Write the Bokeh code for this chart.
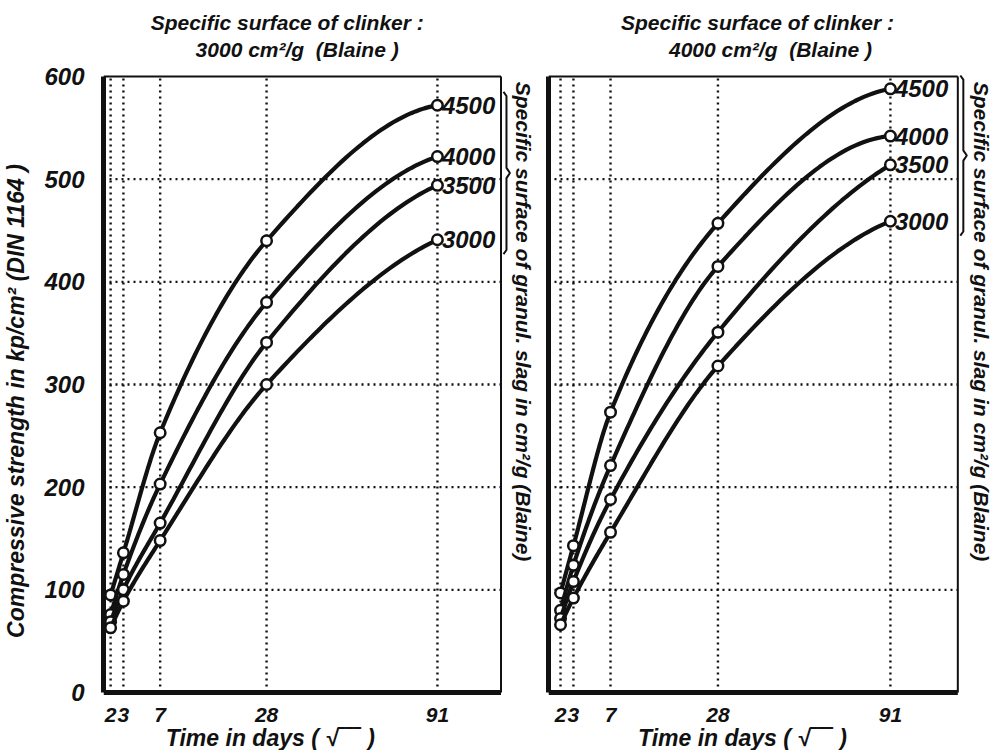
import numpy as np
from bokeh.plotting import figure
from bokeh.models import FixedTicker, Range1d
from bokeh.layouts import row
from bokeh.embed import file_html
from bokeh.resources import INLINE
from bokeh.core.properties import value

# ---------------- data ----------------
days = [2, 3, 7, 28, 91]
slag_labels = ["4500", "4000", "3500", "3000"]
y_ticks = [0, 100, 200, 300, 400, 500, 600]

# clinker 3000 cm2/g
c3000_s4500 = [95, 136, 253, 440, 572]
c3000_s4000 = [76, 115, 203, 380, 522]
c3000_s3500 = [69, 100, 165, 341, 494]
c3000_s3000 = [63, 89, 148, 300, 441]

# clinker 4000 cm2/g
c4000_s4500 = [97, 143, 273, 457, 588]
c4000_s4000 = [80, 124, 221, 415, 542]
c4000_s3500 = [72, 108, 188, 351, 514]
c4000_s3000 = [66, 92, 156, 318, 459]

NB = "\u00a0"
title_line1 = "Specific surface of clinker :"
title_left = "3000 cm\u00b2/g" + NB + NB + "(Blaine" + NB + ")"
title_right = "4000 cm\u00b2/g" + NB + NB + "(Blaine" + NB + ")"
y_title = "Compressive strength in kp/cm\u00b2 (DIN 1164" + NB + ")" + NB * 8
x_title = "Time in days (" + NB + "\u221a\u203e\u203e\u203e" + NB + ")"
side_title = "Specific surface of granul. slag in cm\u00b2/g (Blaine)"

FONT = "Liberation Sans"
INK = "#111111"
H = 750
Y600_PX = 76      # page y of value 600
Y0_PX = 692       # page y of value 0
S = (Y0_PX - Y600_PX) / 600.0


def pchip(x, y, n=40):
    x = np.asarray(x, float)
    y = np.asarray(y, float)
    h = np.diff(x)
    d = np.diff(y) / h
    m = np.zeros_like(y)
    for k in range(1, len(x) - 1):
        if d[k - 1] * d[k] > 0:
            w1 = 2 * h[k] + h[k - 1]
            w2 = h[k] + 2 * h[k - 1]
            m[k] = (w1 + w2) / (w1 / d[k - 1] + w2 / d[k])

    def end(h0, h1, d0, d1):
        mm = ((2 * h0 + h1) * d0 - h0 * d1) / (h0 + h1)
        if np.sign(mm) != np.sign(d0):
            mm = 0.0
        elif np.sign(d0) != np.sign(d1) and abs(mm) > abs(3 * d0):
            mm = 3 * d0
        return mm

    m[0] = end(h[0], h[1], d[0], d[1])
    m[-1] = end(h[-1], h[-2], d[-1], d[-2])
    xs, ys = [], []
    for k in range(len(h)):
        t = np.linspace(0, 1, n, endpoint=(k == len(h) - 1))
        h00 = 2 * t**3 - 3 * t**2 + 1
        h10 = t**3 - 2 * t**2 + t
        h01 = -2 * t**3 + 3 * t**2
        h11 = t**3 - t**2
        xs.append(x[k] + t * h[k])
        ys.append(h00 * y[k] + h10 * h[k] * m[k] + h01 * y[k + 1] + h11 * h[k] * m[k + 1])
    return np.concatenate(xs), np.concatenate(ys)


def panel(series, title2, fig_left_page, width, border_l, x_left, ppu, x_box_right,
          show_y, side_px, t1_cx, t2_cx, xlab_cx):
    frame_left_page = fig_left_page + border_l
    frame_w = width - border_l
    x_end = x_left + frame_w / ppu

    def dx(px):
        return x_left + (px - frame_left_page) / ppu

    def dy(py):
        return 600 - (py - Y600_PX) / S

    p = figure(width=width, height=H, x_range=Range1d(x_left, x_end),
               y_range=Range1d(dy(H), dy(0)), output_backend="svg", toolbar_location=None,
               x_axis_location=None,
               min_border_left=border_l, min_border_right=0,
               min_border_top=0, min_border_bottom=0)
    p.outline_line_color = None
    p.grid.visible = False
    p.background_fill_color = "white"
    p.border_fill_color = "white"

    sx = np.sqrt(np.array(days, float))

    # y axis (library axis, bounded to the plot box)
    ya = p.yaxis[0]
    ya.ticker = FixedTicker(ticks=y_ticks if show_y else [])
    ya.bounds = (0, 600)
    ya.axis_line_width = 5
    ya.axis_line_color = INK
    ya.major_tick_line_color = None
    ya.minor_tick_line_color = None
    ya.major_label_standoff = 13 if show_y else 0
    ya.major_label_text_font = FONT
    ya.major_label_text_font_style = "bold italic"
    ya.major_label_text_font_size = "24px"
    ya.major_label_text_color = INK
    if show_y:
        ya.axis_label = y_title
        ya.axis_label_standoff = 12
        ya.axis_label_text_font = FONT
        ya.axis_label_text_font_style = "bold italic"
        ya.axis_label_text_font_size = "23px"
        ya.axis_label_text_color = INK

    # dotted grid
    p.segment(x0=list(sx), y0=[0] * len(sx), x1=list(sx), y1=[600] * len(sx),
              line_color=INK, line_width=2.4, line_dash="2 4")
    gy = [v for v in y_ticks if 0 < v < 600]
    p.segment(x0=[x_left] * len(gy), y0=gy, x1=[x_box_right] * len(gy), y1=gy,
              line_color=INK, line_width=2.4, line_dash="2 4")

    # box lines: thick bottom, thin top and right
    p.segment(x0=[x_left], y0=[0], x1=[x_box_right], y1=[0], line_color=INK, line_width=5)
    p.segment(x0=[x_left], y0=[600], x1=[x_box_right], y1=[600], line_color=INK, line_width=2)
    p.segment(x0=[x_box_right], y0=[0], x1=[x_box_right], y1=[600], line_color=INK, line_width=2)

    txt = dict(text_font=value(FONT), text_font_style="bold italic", text_color=INK,
               text_baseline="middle")

    # x tick labels
    p.text(x=list(sx), y=[dy(714)] * len(sx), text=[str(d) for d in days],
           text_font_size="21px", text_align="center", **txt)

    # curves and markers
    for vals, lab in zip(series, slag_labels):
        cx, cy = pchip(sx, vals)
        p.line(cx, cy, line_color=INK, line_width=4.2)
        p.scatter(sx, vals, size=10.5, marker="circle", fill_color="white",
                  line_color=INK, line_width=2.5)
        p.text(x=[sx[-1] + 4.5 / ppu], y=[vals[-1]], text=[lab],
               text_font_size="24px", text_align="left", **txt)

    # brace
    tops = max(s[-1] for s in series) + 13
    bots = min(s[-1] for s in series) - 14
    mid = (tops + bots) / 2.0
    xa_ = x_box_right + 2.5 / ppu
    xb_ = x_box_right + 5.5 / ppu
    xc_ = x_box_right + 9.0 / ppu
    bx = [xa_, xb_, xb_, xc_, xb_, xb_, xa_]
    by = [tops, tops - 4, mid + 5, mid, mid - 5, bots + 4, bots]
    p.line(bx, by, line_color=INK, line_width=2)

    # titles and axis texts
    p.text(x=[dx(t1_cx)], y=[dy(22)], text=[title_line1], text_font_size="21px",
           text_align="center", **txt)
    p.text(x=[dx(t2_cx)], y=[dy(49)], text=[title2], text_font_size="21px",
           text_align="center", **txt)
    p.text(x=[dx(xlab_cx)], y=[dy(737)], text=[x_title], text_font_size="23px",
           text_align="center", **txt)
    p.text(x=[dx(side_px)], y=[dy(321)], text=[side_title], angle=-np.pi / 2,
           text_font_size="21px", text_align="center", **txt)
    return p


p1 = panel([c3000_s4500, c3000_s4000, c3000_s3500, c3000_s3000], title_left,
           fig_left_page=0, width=536, border_l=100, x_left=1.237, ppu=40.5, x_box_right=11.12,
           show_y=True, side_px=523, t1_cx=285, t2_cx=295, xlab_cx=268)
p2 = panel([c4000_s4500, c4000_s4000, c4000_s3500, c4000_s3000], title_right,
           fig_left_page=536, width=458, border_l=12, x_left=1.118, ppu=40.6, x_box_right=11.2,
           show_y=False, side_px=981, t1_cx=757, t2_cx=770, xlab_cx=742)

layout = row(p1, p2)
open("out.html", "w").write(file_html(layout, INLINE))
